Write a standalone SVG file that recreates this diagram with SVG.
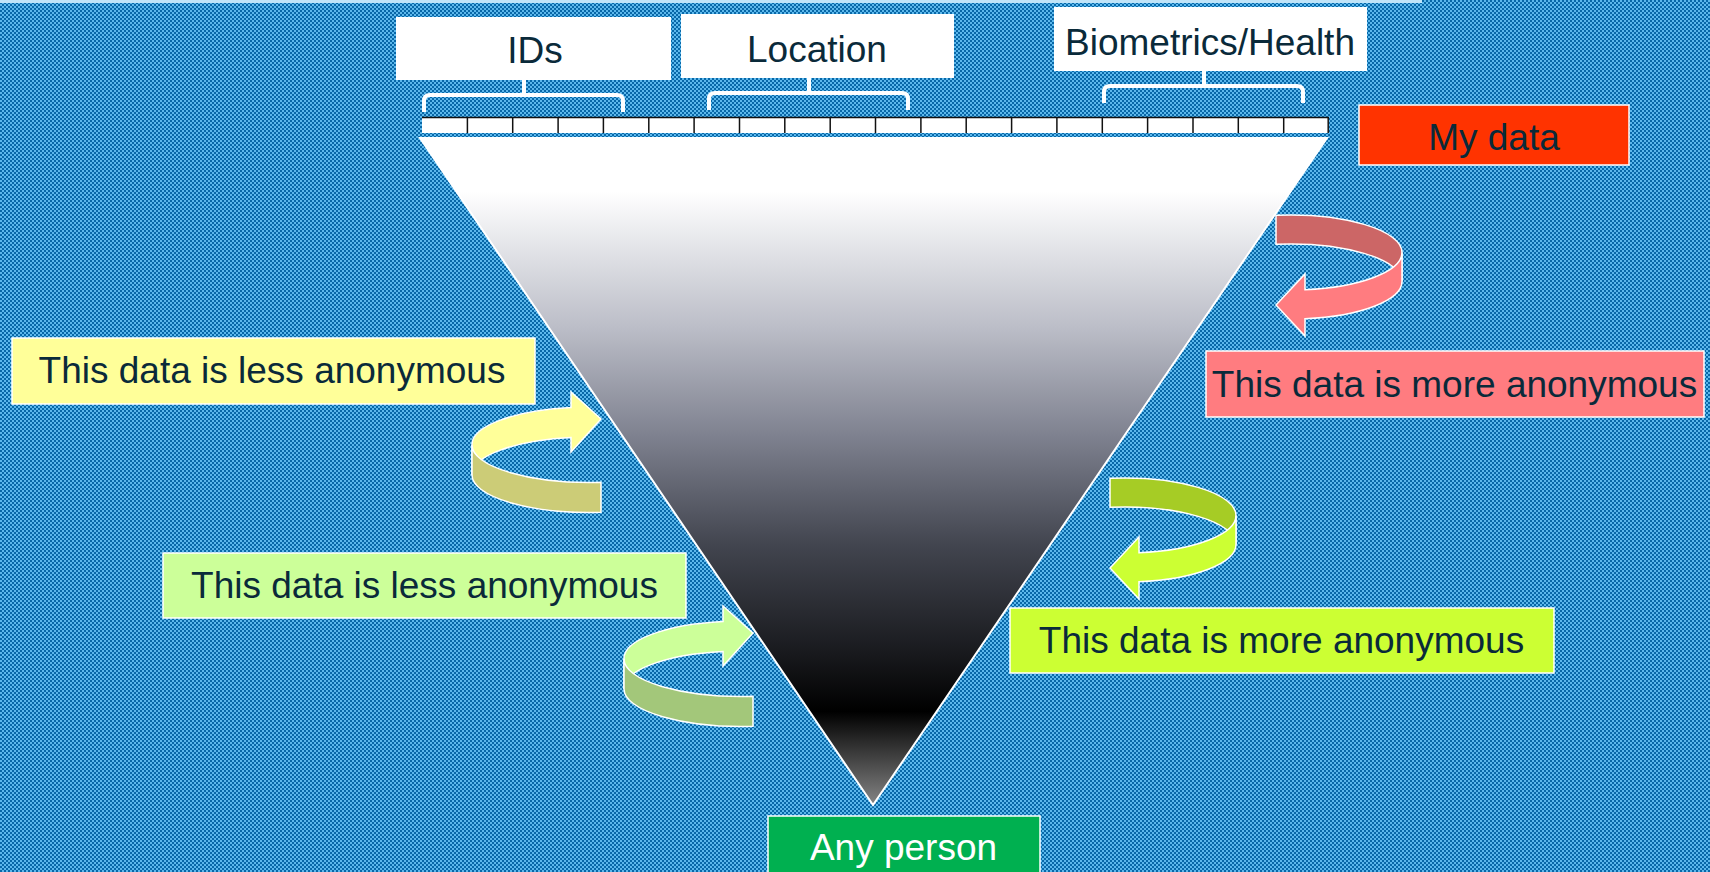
<svg xmlns="http://www.w3.org/2000/svg" width="1710" height="872" viewBox="0 0 1710 872">
<defs>
<pattern id="chk" x="0" y="0" width="4" height="4" patternUnits="userSpaceOnUse">
<rect width="4" height="4" fill="#0868a8"/>
<rect x="0" y="0" width="2" height="2" fill="#5cb8ec"/>
<rect x="2" y="2" width="2" height="2" fill="#5cb8ec"/>
</pattern>
<linearGradient id="tri" gradientUnits="userSpaceOnUse" x1="0" y1="138" x2="0" y2="805">
<stop offset="0" stop-color="#ffffff"/>
<stop offset="0.08" stop-color="#ffffff"/>
<stop offset="0.283" stop-color="#bcbec8"/>
<stop offset="0.447" stop-color="#7e818f"/>
<stop offset="0.61" stop-color="#42454f"/>
<stop offset="0.774" stop-color="#18191d"/>
<stop offset="0.86" stop-color="#000000"/>
<stop offset="1" stop-color="#858585"/>
</linearGradient>
<style>
.lbl{font-family:"Liberation Sans",Arial,sans-serif;font-size:37px;fill:#0a2a3a;text-anchor:middle}
.box{stroke:#ffffff;stroke-width:1.5}
.wbox{fill:#ffffff}
.br{fill:none;stroke:#ffffff;stroke-width:4;stroke-linejoin:round;stroke-linecap:butt}
.arr{stroke:#ffffff;stroke-width:1.5;stroke-linejoin:miter}
.tick{stroke:#111111;stroke-width:1.5}
</style>
</defs>

<rect width="1710" height="872" fill="url(#chk)"/>
<rect x="0" y="0" width="1422" height="3" fill="#c0e4f8"/>

<g id="funnel">
<polygon points="420,138 1327,138 873,805" fill="url(#tri)" stroke="#ffffff" stroke-width="2"/>
</g>

<g id="ruler">
<rect x="422" y="117" width="907" height="16" fill="#ffffff"/>
<line class="tick" x1="422" y1="117.5" x2="1329" y2="117.5"/>
<g class="tick">
<line x1="467.4" y1="117" x2="467.4" y2="133"/>
<line x1="512.7" y1="117" x2="512.7" y2="133"/>
<line x1="558.1" y1="117" x2="558.1" y2="133"/>
<line x1="603.4" y1="117" x2="603.4" y2="133"/>
<line x1="648.8" y1="117" x2="648.8" y2="133"/>
<line x1="694.1" y1="117" x2="694.1" y2="133"/>
<line x1="739.5" y1="117" x2="739.5" y2="133"/>
<line x1="784.8" y1="117" x2="784.8" y2="133"/>
<line x1="830.2" y1="117" x2="830.2" y2="133"/>
<line x1="875.5" y1="117" x2="875.5" y2="133"/>
<line x1="920.9" y1="117" x2="920.9" y2="133"/>
<line x1="966.2" y1="117" x2="966.2" y2="133"/>
<line x1="1011.6" y1="117" x2="1011.6" y2="133"/>
<line x1="1056.9" y1="117" x2="1056.9" y2="133"/>
<line x1="1102.3" y1="117" x2="1102.3" y2="133"/>
<line x1="1147.6" y1="117" x2="1147.6" y2="133"/>
<line x1="1193" y1="117" x2="1193" y2="133"/>
<line x1="1238.3" y1="117" x2="1238.3" y2="133"/>
<line x1="1283.7" y1="117" x2="1283.7" y2="133"/>
<line x1="1328.2" y1="117" x2="1328.2" y2="133"/>
</g>
</g>

<g id="ids">
<rect class="wbox" x="396" y="17" width="275" height="63"/>
<text class="lbl" x="535" y="63">IDs</text>
</g>
<g id="location">
<rect class="wbox" x="681" y="14" width="273" height="64"/>
<text class="lbl" x="817" y="62">Location</text>
</g>
<g id="biometrics">
<rect class="wbox" x="1054" y="7" width="313" height="64"/>
<text class="lbl" x="1210" y="55">Biometrics/Health</text>
</g>

<g id="connectors">
<path class="br" d="M424,112 V101 Q424,95 430,95 H617 Q623,95 623,101 V112"/>
<line class="br" x1="524" y1="79" x2="524" y2="95" stroke-width="5"/>
<path class="br" d="M709,110 V99 Q709,93 715,93 H902 Q908,93 908,99 V110"/>
<line class="br" x1="809" y1="77" x2="809" y2="93" stroke-width="5"/>
<path class="br" d="M1104,103 V92 Q1104,86 1110,86 H1297 Q1303,86 1303,92 V103"/>
<line class="br" x1="1204" y1="70" x2="1204" y2="86" stroke-width="5"/>
</g>

<g id="my-data">
<rect class="box" x="1359" y="105" width="270" height="60" fill="#ff3300"/>
<text class="lbl" x="1494" y="150">My data</text>
</g>

<g id="arrow-red">
<path class="arr" fill="#cc6666" d="M1276,215.3 A112,37.5 0 0 1 1402,252.5 L1402,281.5 A112,37.5 0 0 0 1276,244.3 Z"/>
<path class="arr" fill="#ff7c80" d="M1402,252.5 A112,37.5 0 0 1 1305,289.7 L1305,274 L1276,305 L1305,336 L1305,318.7 A112,37.5 0 0 0 1402,281.5 Z"/>
</g>
<g id="more-anon-1">
<rect class="box" x="1206" y="351" width="498" height="66" fill="#ff7c80"/>
<text class="lbl" x="1454.5" y="397">This data is more anonymous</text>
</g>

<g id="less-anon-1">
<rect class="box" x="12" y="338" width="523" height="66" fill="#ffff99"/>
<text class="lbl" x="272" y="383">This data is less anonymous</text>
</g>
<g id="arrow-yellow">
<path class="arr" fill="#ffff99" d="M472,445 A118,37.5 0 0 1 571,407.5 L571,392 L601,419 L571,452 L571,437.5 A118,37.5 0 0 0 472,475 Z"/>
<path class="arr" fill="#cccc77" d="M472,445 A118,37.5 0 0 0 601,482.3 L601,512.3 A118,37.5 0 0 1 472,475 Z"/>
</g>

<g id="less-anon-2">
<rect class="box" x="163" y="553" width="523" height="65" fill="#ccff99"/>
<text class="lbl" x="424.5" y="598">This data is less anonymous</text>
</g>
<g id="arrow-lightgreen">
<path class="arr" fill="#ccff99" d="M624,659 A118,37.5 0 0 1 723,621.5 L723,606 L753,633 L723,666 L723,651.5 A118,37.5 0 0 0 624,689 Z"/>
<path class="arr" fill="#a3c77a" d="M624,659 A118,37.5 0 0 0 753,696.3 L753,726.3 A118,37.5 0 0 1 624,689 Z"/>
</g>

<g id="arrow-green">
<path class="arr" fill="#a6cc25" d="M1110,478.3 A112,37.5 0 0 1 1236,515.5 L1236,544.5 A112,37.5 0 0 0 1110,507.3 Z"/>
<path class="arr" fill="#ccff33" d="M1236,515.5 A112,37.5 0 0 1 1139,552.7 L1139,537 L1110,568 L1139,599 L1139,581.7 A112,37.5 0 0 0 1236,544.5 Z"/>
</g>
<g id="more-anon-2">
<rect class="box" x="1010" y="608" width="544" height="65" fill="#ccff33"/>
<text class="lbl" x="1281.5" y="653">This data is more anonymous</text>
</g>

<g id="any-person">
<rect class="box" x="768" y="816" width="272" height="64" fill="#00b050"/>
<text class="lbl" x="903.5" y="860" style="fill:#ffffff">Any person</text>
</g>
</svg>
